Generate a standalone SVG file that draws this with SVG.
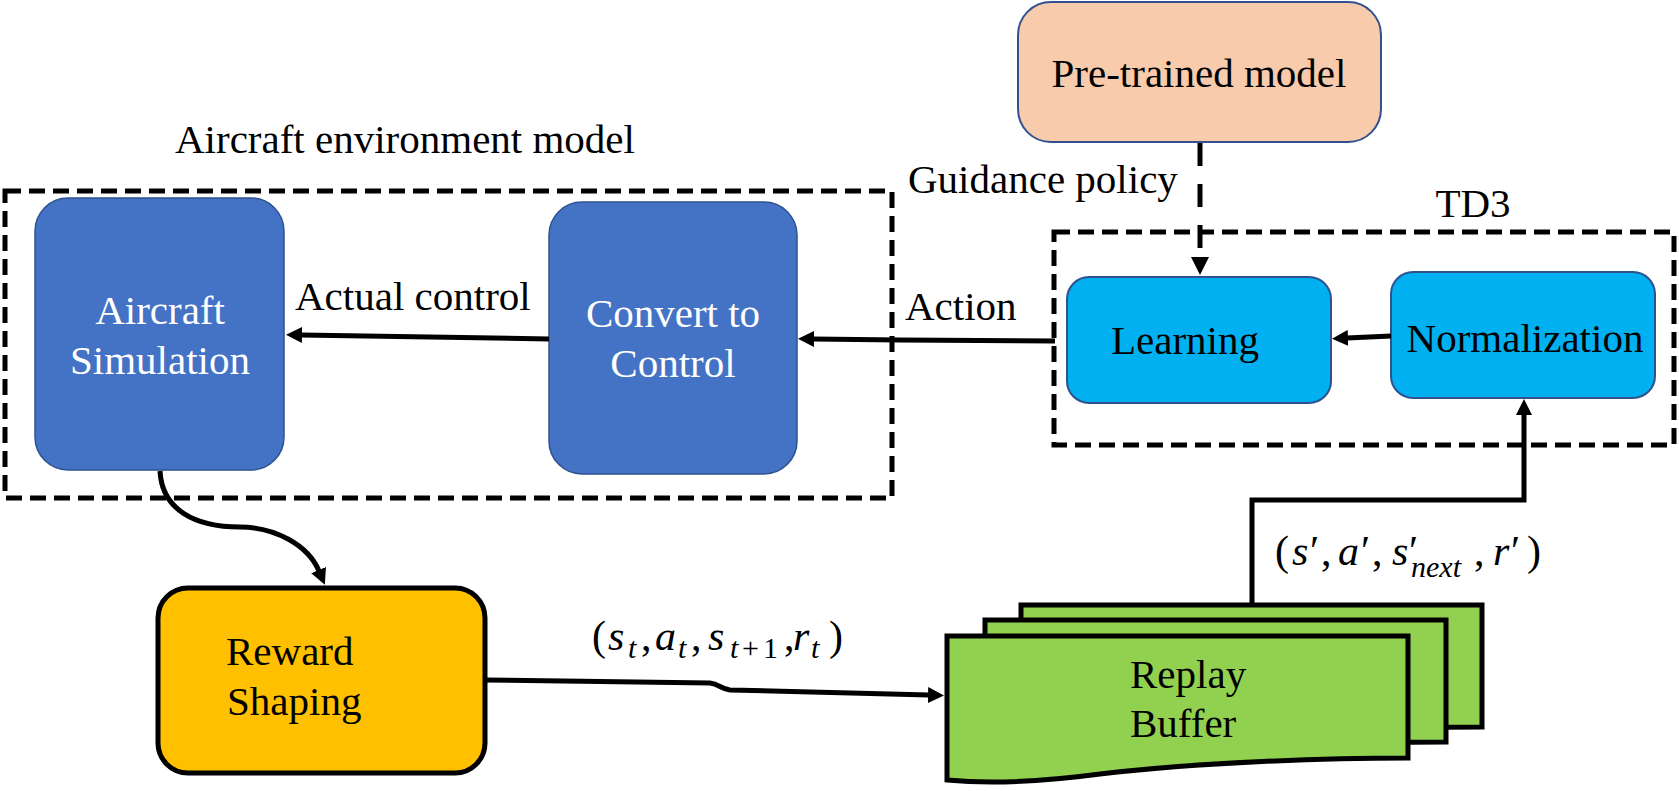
<svg xmlns="http://www.w3.org/2000/svg" width="1679" height="791" viewBox="0 0 1679 791">
<style>
  .t { font-size: 41px; fill: #000; }
  .w { fill: #fff; }
  .m { font-size: 42px; fill: #000; }
  .i { font-style: italic; }
  .sub { font-size: 30px; }
  .dash { fill: none; stroke: #000; stroke-width: 5; stroke-dasharray: 16 8; }
  .blue { fill: #4472C4; stroke: #2F528F; stroke-width: 1.5; }
  .cyan { fill: #00B0F0; stroke: #2F528F; stroke-width: 2; }
  .peach { fill: #F8CBAD; stroke: #2F528F; stroke-width: 2; }
  .gold { fill: #FFC000; stroke: #000; stroke-width: 5; }
  .green { fill: #92D050; stroke: #000; stroke-width: 5; stroke-linejoin: miter; }
  .conn { fill: none; stroke: #000; stroke-width: 5; }
</style>
<defs>
  <marker id="ah" viewBox="0 0 16 16" refX="1" refY="8" markerWidth="16" markerHeight="16" markerUnits="userSpaceOnUse" orient="auto">
    <path d="M0,0 L16,8 L0,16 Z" fill="#000"/>
  </marker>
  <marker id="ah2" viewBox="0 0 18 18" refX="1" refY="9" markerWidth="18" markerHeight="18" markerUnits="userSpaceOnUse" orient="auto">
    <path d="M0,0 L18,9 L0,18 Z" fill="#000"/>
  </marker>
  <path id="doc" d="M947,636 H1408 V758 C1330,758 1200,762 1100,774 C1040,782 990,784 947,780 Z"/>
</defs>

<g id="env-model">
  <rect class="dash" x="5" y="191" width="887" height="307"/>
  <text class="t" x="175" y="153" style="font-family: 'Liberation Serif'">Aircraft environment model</text>
</g>

<g id="td3">
  <rect class="dash" x="1054" y="232" width="620" height="213"/>
  <text class="t" x="1473" y="217" text-anchor="middle" style="font-family: 'Liberation Serif'">TD3</text>
</g>

<g id="aircraft-simulation">
  <rect class="blue" x="35" y="198" width="249" height="272" rx="33" ry="33"/>
  <text class="t w" x="160" y="324" text-anchor="middle" style="font-family: 'Liberation Serif'">Aircraft</text>
  <text class="t w" x="160" y="374" text-anchor="middle" style="font-family: 'Liberation Serif'">Simulation</text>
</g>

<g id="convert-to-control">
  <rect class="blue" x="549" y="202" width="248" height="272" rx="33" ry="33"/>
  <text class="t w" x="673" y="327" text-anchor="middle" style="font-family: 'Liberation Serif'">Convert to</text>
  <text class="t w" x="673" y="377" text-anchor="middle" style="font-family: 'Liberation Serif'">Control</text>
</g>

<g id="pretrained-model">
  <rect class="peach" x="1018" y="2" width="363" height="140" rx="33" ry="33"/>
  <text class="t" x="1199" y="87" text-anchor="middle" style="font-family: 'Liberation Serif'">Pre-trained model</text>
</g>

<g id="learning">
  <rect class="cyan" x="1067" y="277" width="264" height="126" rx="22" ry="22"/>
  <text class="t" x="1111" y="354" style="font-family: 'Liberation Serif'">Learning</text>
</g>

<g id="normalization">
  <rect class="cyan" x="1391" y="272" width="264" height="126" rx="22" ry="22"/>
  <text class="t" x="1525" y="352" text-anchor="middle" style="font-family: 'Liberation Serif'">Normalization</text>
</g>

<g id="reward-shaping">
  <rect class="gold" x="158" y="588" width="327" height="185" rx="30" ry="30"/>
  <text class="t" x="226" y="665" style="font-family: 'Liberation Serif'">Reward</text>
  <text class="t" x="227" y="715" style="font-family: 'Liberation Serif'">Shaping</text>
</g>

<g id="replay-buffer">
  <use href="#doc" class="green" transform="translate(74,-31)"/>
  <use href="#doc" class="green" transform="translate(38,-16)"/>
  <use href="#doc" class="green"/>
  <text class="t" x="1130" y="688" style="font-family: 'Liberation Serif'">Replay</text>
  <text class="t" x="1130" y="737" style="font-family: 'Liberation Serif'">Buffer</text>
</g>

<g id="connectors">
  <path class="conn" d="M1055,341 L900,340 L813,339" marker-end="url(#ah)"/>
  <path class="conn" d="M549,339 L301,335" marker-end="url(#ah)"/>
  <path class="conn" d="M1391,336 L1347,338" marker-end="url(#ah)"/>
  <path class="conn" d="M1200,143 L1200,258" stroke-dasharray="23 18" stroke-width="6" marker-end="url(#ah2)"/>
  <path class="conn" d="M160,471 C162,510 195,527 240,527 C275,527 308,545 319,571" marker-end="url(#ah)"/>
  <path class="conn" d="M485,680 L710,683 C719,684 721,689 730,690 L929,695" marker-end="url(#ah)"/>
  <path class="conn" d="M1252,604 V500 H1524 V414" marker-end="url(#ah)"/>
</g>

<g id="labels">
  <text class="t" x="295" y="310" style="font-family: 'Liberation Serif'">Actual control</text>
  <text class="t" x="905" y="320" style="font-family: 'Liberation Serif'">Action</text>
  <text class="t" x="908" y="193" style="font-family: 'Liberation Serif'">Guidance policy</text>

  <text class="m" y="650" style="font-family: 'Liberation Serif'"><tspan x="592">(</tspan><tspan class="i" x="608">s</tspan><tspan class="i sub" x="628" y="658">t</tspan><tspan x="641" y="650">,</tspan><tspan class="i" x="655">a</tspan><tspan class="i sub" x="678" y="658">t</tspan><tspan x="691" y="650">,</tspan><tspan class="i" x="708">s</tspan><tspan class="i sub" x="730" y="658">t</tspan><tspan class="sub" x="742">+</tspan><tspan class="sub" x="763">1</tspan><tspan x="784" y="650">,</tspan><tspan class="i" x="793">r</tspan><tspan class="i sub" x="811" y="658">t</tspan><tspan x="829" y="650">)</tspan></text>

  <text class="m" y="565" style="font-family: 'Liberation Serif'"><tspan x="1275">(</tspan><tspan class="i" x="1292">s</tspan><tspan x="1310">′</tspan><tspan x="1321">,</tspan><tspan class="i" x="1338">a</tspan><tspan x="1361">′</tspan><tspan x="1372">,</tspan><tspan class="i" x="1392">s</tspan><tspan x="1409">′</tspan><tspan class="i sub" x="1411" y="577">next</tspan><tspan x="1474" y="565">,</tspan><tspan class="i" x="1493">r</tspan><tspan x="1511">′</tspan><tspan x="1527">)</tspan></text>
</g>
</svg>
